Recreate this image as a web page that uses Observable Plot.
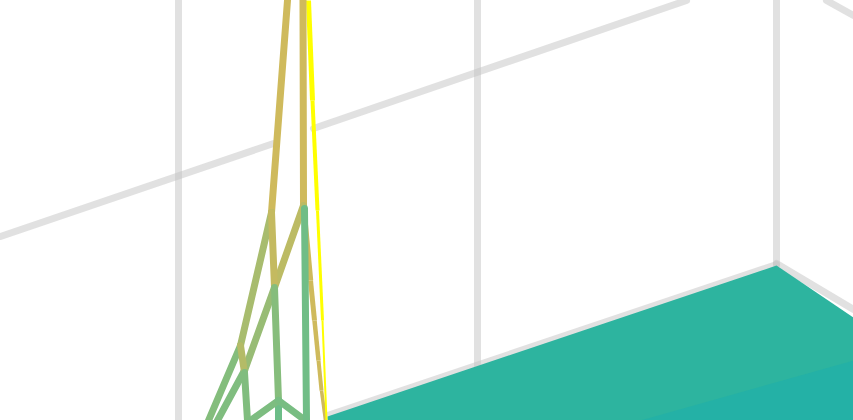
<!DOCTYPE html>
<html><head><meta charset="utf-8">
<script src="https://cdn.jsdelivr.net/npm/d3@7"></script>
<script src="https://cdn.jsdelivr.net/npm/@observablehq/plot@0.6"></script>
<style>html,body{margin:0;padding:0;background:#fff;overflow:hidden}svg{display:block}</style>
</head><body><div id="c"></div>
<script>
// Projected 3D scene: [x, y] in the scene's plane
const gridLines = [
  [[178,0],[178,420]],
  [[477,0],[477,366]],
  [[776,0],[776,264]],
  [[0,236],[273,143]],
  [[313,128],[686,0]],
  [[826,0],[853,15]],
  [[776,264],[327,415]],
  [[776,263],[853,309]]
];
const floorBack = [[776,265],[853,317],[853,420],[327,420],[327,416],[776,265]];
const floorFront = [[853,360],[853,420],[640,420],[853,360]];
// each ribbon: [x, y, colour of the stretch that starts there]
const ribbons = [
  [[287,0,"#cfba5c"],[271,212,"#a8bc6e"],[240,345,"#84bd7c"],[208,420,"#84bd7c"]],
  [[302.5,0,"#cfba5c"],[303,205,"#bcbb64"],[274,287,"#98bc75"],[244,370,"#80bd7f"],[217,420,"#80bd7f"]],
  [[271,212,"#c4ba60"],[274,287,"#86bd7c"],[278,400,"#6dbd88"],[278,420,"#6dbd88"]],
  [[240,345,"#b4bb67"],[244,372,"#80bd7e"],[247,420,"#80bd7e"]],
  [[250,420,"#7dbd80"],[278,400,"#78bd82"],[305,420,"#78bd82"]]
];
const goldEdges = [
  [[303,205],[310,280],5.5],
  [[310,280],[314,320],5],
  [[314,320],[318,360],4.5],
  [[318,360],[321,390],4],
  [[321,390],[325,420],3.5]
];
const greenEdge = [[304,208],[306,420]];
const yellowEdges = [
  [[308,0],[312,100],5],
  [[312,100],[317,210],4],
  [[317,210],[322,320],3],
  [[322,320],[326,420],2]
];
const greyRows = gridLines.flatMap((l,i)=>l.map(([x,y])=>({x,y,i})));
const ribbonRows = ribbons.flatMap((l,i)=>l.map(([x,y,c])=>({x,y,c,i})));
const pts = a => a.map(([x,y])=>({x,y}));
const seg = {x1:d=>d[0][0],y1:d=>d[0][1],x2:d=>d[1][0],y2:d=>d[1][1]};
const plot = Plot.plot({
  width:853,height:420,marginTop:0,marginRight:0,marginBottom:0,marginLeft:0,
  x:{domain:[0,853],axis:null},y:{domain:[420,0],axis:null},color:{type:"identity"},
  style:{background:"#fff"},
  marks:[
    Plot.line(greyRows,{x:"x",y:"y",z:"i",stroke:"#c4c4c4",strokeOpacity:0.5,strokeWidth:7}),
    Plot.line(pts(floorBack),{x:"x",y:"y",fill:"#2db49f",stroke:"none"}),
    Plot.line(pts(floorFront),{x:"x",y:"y",fill:"#24b1a6",stroke:"none"}),
    Plot.link(goldEdges,{...seg,stroke:"#cfba5c",strokeWidth:d=>d[2]}),
    Plot.link(yellowEdges,{...seg,stroke:"#ffff00",strokeWidth:d=>d[2]}),
    Plot.line(ribbonRows,{x:"x",y:"y",z:"i",stroke:"c",strokeWidth:7,strokeLinejoin:"round"}),
    Plot.line(pts(greenEdge),{x:"x",y:"y",stroke:"#70bd86",strokeWidth:7})
  ]
});
document.getElementById("c").append(plot);
</script></body></html>
